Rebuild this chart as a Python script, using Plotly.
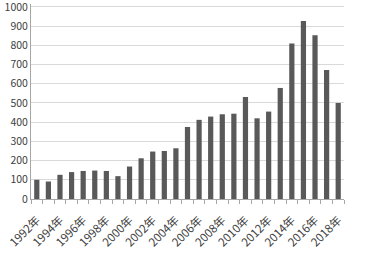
import plotly.graph_objects as go

years = list(range(1992, 2019))
values = [100, 91, 126, 140, 146, 148, 146, 119, 169, 212, 247, 250, 264, 375,
          412, 429, 441, 444, 531, 420, 455, 578, 809, 927, 852, 672, 500]
tick_years = list(range(1992, 2019, 2))
tick_labels = [f"{y}年" for y in tick_years]
y_ticks = list(range(0, 1001, 100))

fig = go.Figure(go.Bar(x=years, y=values, marker=dict(color="#595959", line=dict(width=0)),
                       width=0.45))

font = "Noto Sans CJK SC, Noto Sans, sans-serif"
fig.update_layout(
    width=365, height=253,
    margin=dict(l=31, r=21, t=4, b=54),
    plot_bgcolor="white", paper_bgcolor="white",
    showlegend=False,
    font=dict(family=font, size=11, color="#404040"),
    bargap=0.5,
)
fig.update_xaxes(
    range=[1991.5, 2018.5],
    tickmode="array", tickvals=tick_years, ticktext=tick_labels,
    tickangle=-45, ticks="", showgrid=False,
    showline=True, linecolor="#a6a6a6", linewidth=1,
    tickfont=dict(size=11.5),
    ticklabelstandoff=9,
    minor=dict(tickmode="array", tickvals=[y + 0.5 for y in range(1991, 2019)],
               ticks="outside", ticklen=4, tickcolor="#a6a6a6", showgrid=False),
    automargin=False,
)
fig.update_yaxes(
    range=[0, 1015], tickmode="array", tickvals=y_ticks,
    showgrid=True, gridcolor="#d9d9d9", gridwidth=1,
    showline=True, linecolor="#a6a6a6", linewidth=1,
    ticks="", zeroline=False, tickfont=dict(size=10.5),
    ticklabeloverflow="allow",
    automargin=False,
)
fig.write_html("out.html")
